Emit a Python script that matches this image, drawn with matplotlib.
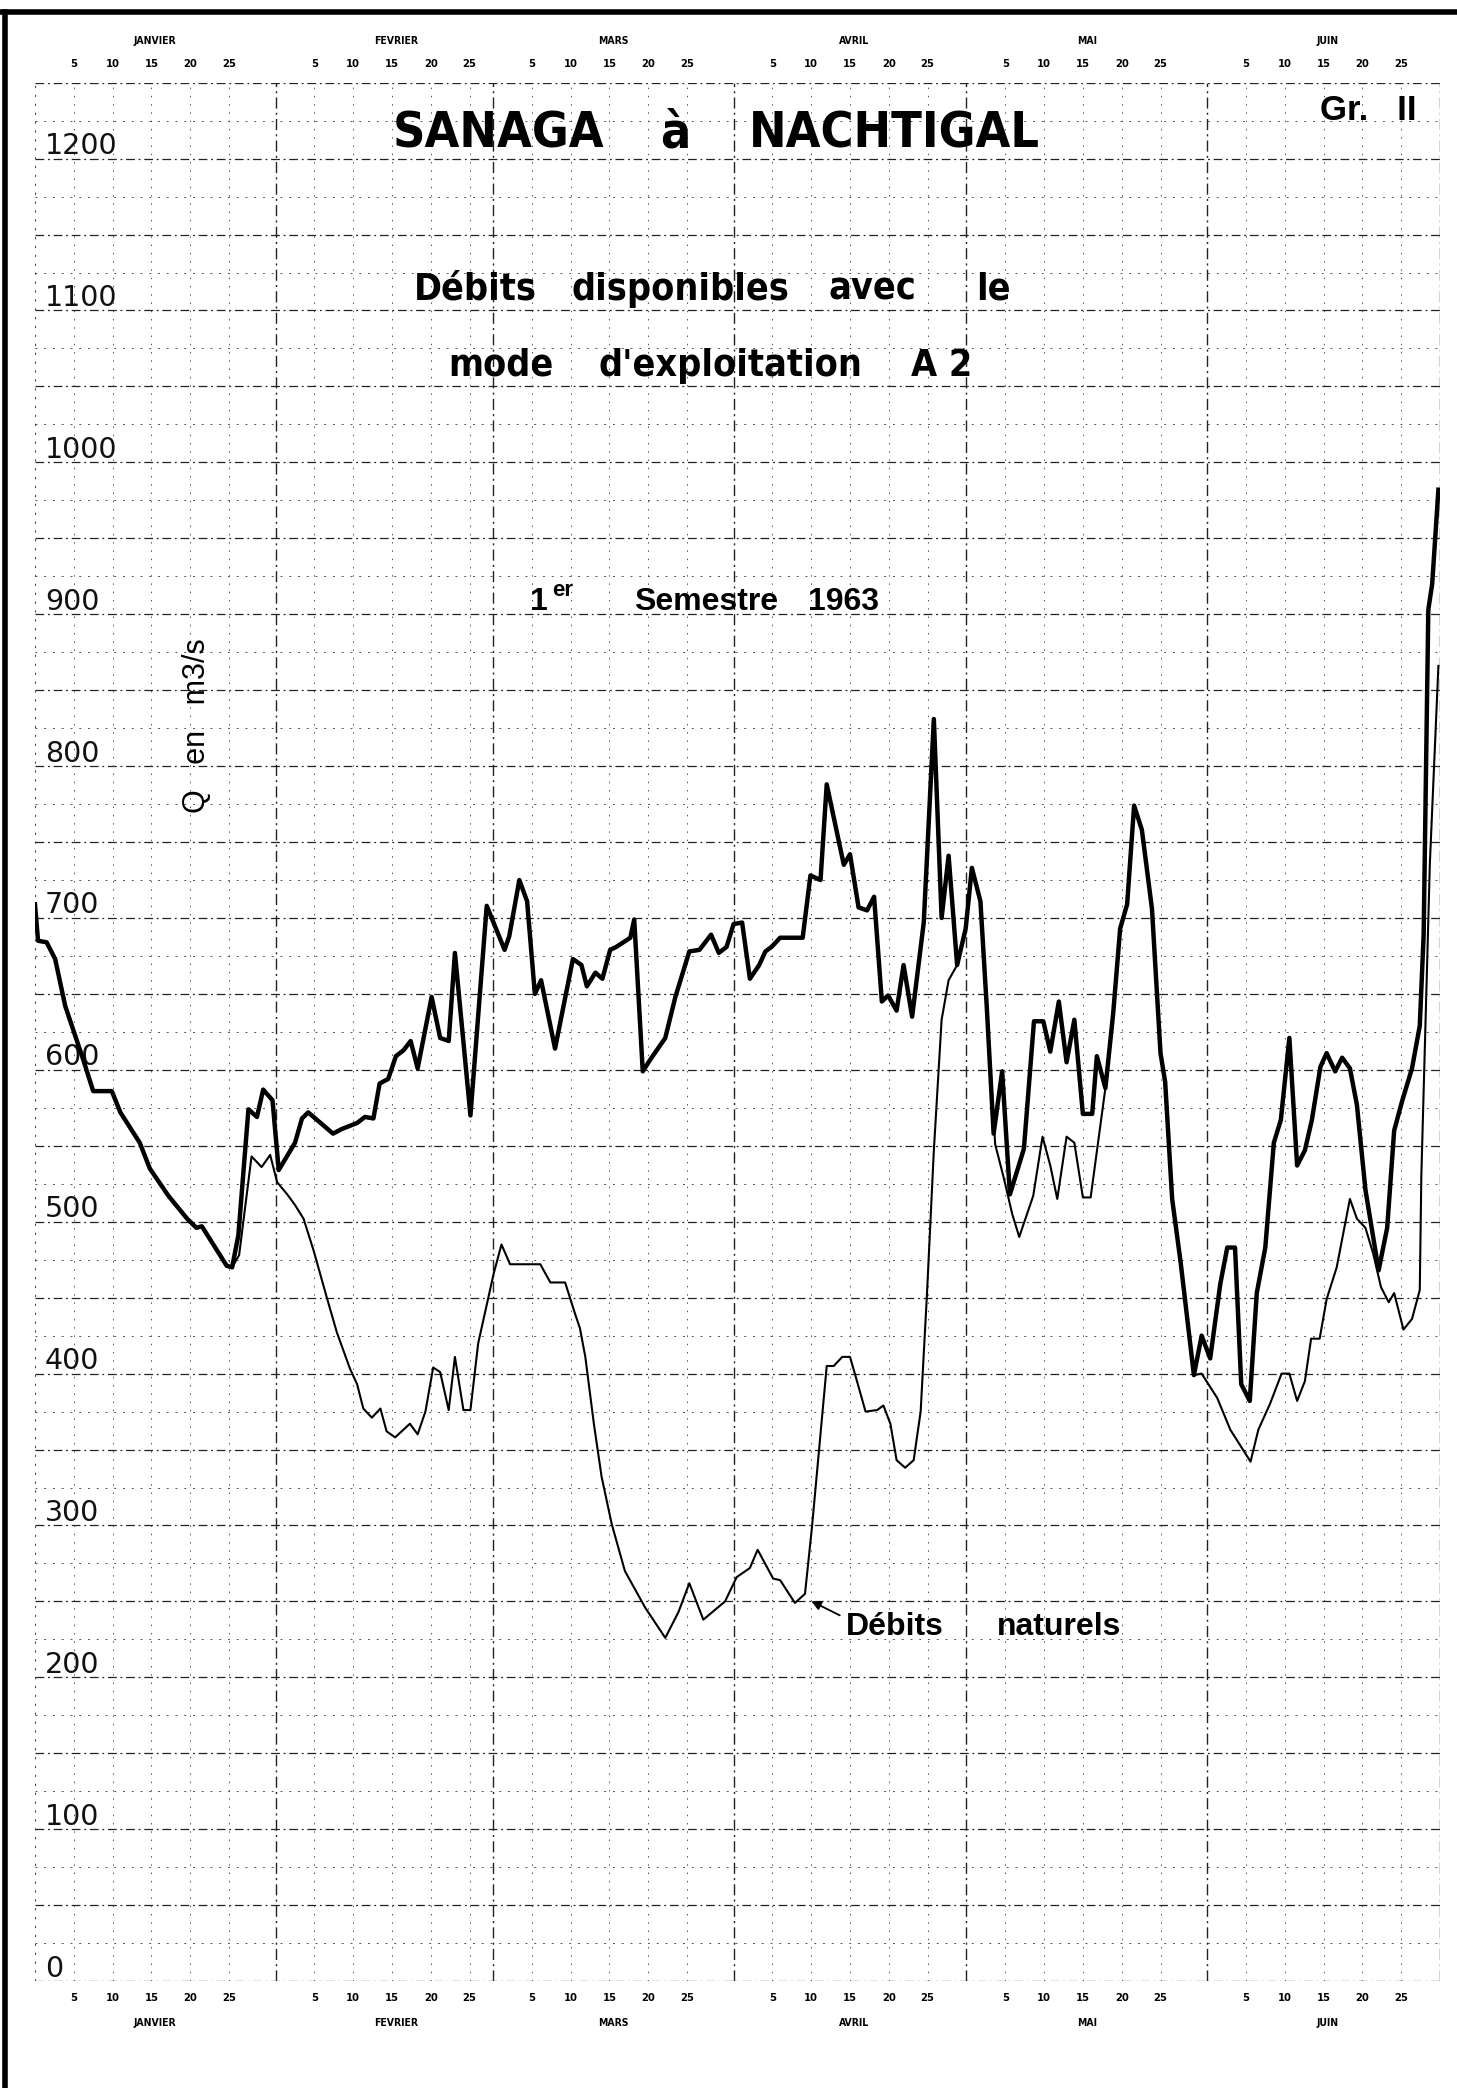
import numpy as np
import matplotlib.pyplot as plt
from matplotlib.lines import Line2D

# Sanaga a Nachtigal - debits disponibles, mode d'exploitation A2, 1er semestre 1963
mois = ['JANVIER', 'FEVRIER', 'MARS', 'AVRIL', 'MAI', 'JUIN']
nb_jours = [31, 28, 31, 30, 31, 30]
graduations_q = list(range(0, 1300, 100))
jours_graduation = [5, 10, 15, 20, 25]

# jour du semestre (0 = debut janvier) et debit en m3/s
jours_A2 = [0, 0.4, 1.5, 2.6, 3.9, 6.2, 7.5, 9.9, 11.0, 13.5, 14.8, 17.2, 19.6, 20.8, 21.5, 24.7, 25.4, 26.2, 27.5, 28.6, 29.4, 30.6, 31.4,
            33.5, 34.4, 35.2, 38.4, 39.5, 41.5, 42.5, 43.6, 44.4, 45.5, 46.5, 47.5, 48.4, 49.3, 51.1, 52.2, 53.3, 54.1, 56.1, 58.2, 60.5, 61.1, 62.4,
            63.4, 64.4, 65.2, 67.0, 69.3, 70.4, 71.1, 72.2, 73.1, 74.1, 74.9, 76.7, 77.2, 78.3, 79.3, 81.2, 82.5, 84.3, 85.6, 87.1, 88.1, 89.1, 90.0, 91.1, 92.1,
            93.3, 94.1, 94.9, 96.0, 98.9, 99.9, 101.2, 102.0, 104.2, 105.0, 106.1, 107.2, 108.1, 109.1, 109.9, 111.0, 111.9, 113.0, 114.5, 115.8, 116.8, 117.7, 118.8, 119.9, 120.7, 121.8,
            122.6, 123.5, 124.6, 125.6, 127.4, 128.7, 129.9, 130.8, 131.9, 132.9, 133.9, 135.0, 136.2, 136.8, 137.9, 138.9, 139.8, 140.7, 141.6, 142.6, 143.9, 145.0, 145.6, 146.5, 147.6, 149.3,
            150.3, 151.4, 152.7, 153.6, 154.6, 155.4, 156.5, 157.4, 158.5, 159.6, 160.5, 161.6, 162.6, 163.6, 164.5, 165.6, 166.4, 167.5, 168.4, 169.4, 170.3, 171.4, 173.1, 174.2, 175.1, 176.1, 177.4, 178.4, 178.9, 179.5, 180.0, 180.8]
q_A2 = [709, 685, 684, 673, 642, 607, 586, 586, 572, 552, 535, 517, 502, 496, 497, 471, 470, 491, 574, 569, 587, 580, 534,
        552, 568, 572, 558, 561, 565, 569, 568, 591, 594, 609, 613, 619, 601, 648, 621, 619, 677, 570, 708, 679, 688, 725,
        711, 650, 659, 614, 673, 669, 655, 664, 660, 679, 681, 687, 699, 599, 607, 621, 648, 678, 679, 689, 677, 681, 696, 697, 660,
        669, 678, 681, 687, 687, 728, 725, 788, 735, 742, 707, 705, 714, 645, 649, 639, 669, 635, 697, 831, 700, 741, 669, 693, 733, 711,
        643, 558, 599, 518, 548, 632, 632, 612, 645, 605, 633, 571, 571, 609, 588, 637, 693, 709, 774, 758, 706, 611, 592, 515, 473, 399,
        425, 410, 459, 483, 483, 393, 382, 453, 483, 552, 567, 621, 537, 547, 567, 602, 611, 599, 608, 601, 577, 521, 468, 496, 560, 579, 601, 629, 689, 903, 920, 982]

jours_nat = [0, 0.4, 1.5, 2.6, 3.9, 6.2, 7.5, 9.9, 11.0, 13.5, 14.8, 17.2, 19.6, 20.8, 21.5, 24.7, 25.4,
             26.3, 27.9, 29.2, 30.3, 31.2, 32.5, 33.5, 34.6, 35.9, 37.6, 38.9, 40.6, 41.5, 42.3, 43.4, 44.5, 45.3, 46.4, 48.3, 49.3, 50.3,
             51.3, 52.2, 53.3, 54.1, 55.2, 56.1, 57.1, 59.1, 60.1, 61.2, 65.1, 66.4, 68.3, 69.6, 70.2, 70.9, 72.0, 73.0, 74.3, 76.0,
             78.6, 81.2, 82.9, 84.3, 86.1, 88.9, 90.4, 92.1, 93.1, 95.1, 96.0, 97.9, 99.2, 100.1, 102.0, 102.9, 104.0, 105.0, 105.9,
             107.0, 108.5, 109.3, 110.2, 111.0, 112.1, 113.2, 114.1, 114.9, 115.8, 116.8, 117.7, 118.8, 119.9, 120.7, 121.8,
             122.6, 123.7, 124.8, 125.9, 126.8, 128.6, 129.8, 130.8, 131.7, 132.9, 133.9, 135.0, 136.0, 137.9, 138.9, 139.8, 140.7,
             141.6, 142.6, 143.9, 145.0, 145.6, 146.5, 147.6, 149.3,
             150.3, 152.3, 154.0, 156.6, 157.6, 159.1, 160.6, 161.6, 162.6, 163.6, 164.4, 165.5, 166.4, 167.7, 169.4, 170.3, 171.4,
             172.4, 173.4, 174.4, 175.1, 176.3, 177.4, 178.4, 178.6, 179.7, 180.8]
q_nat = [709, 685, 684, 673, 642, 607, 586, 586, 572, 552, 535, 517, 502, 496, 497, 471, 470,
         478, 543, 536, 544, 526, 518, 511, 502, 481, 450, 427, 403, 393, 377, 371, 377, 362, 358, 367, 360, 375,
         404, 401, 376, 411, 376, 376, 420, 466, 485, 472, 472, 460, 460, 439, 430, 411, 367, 332, 301, 270,
         246, 226, 243, 262, 238, 250, 266, 272, 284, 265, 264, 249, 255, 299, 405, 405, 411, 411, 395,
         375, 376, 379, 367, 343, 338, 343, 375, 451, 547, 633, 659, 669, 693, 733, 711,
         643, 551, 529, 505, 490, 517, 556, 537, 515, 556, 552, 516, 516, 588, 637, 693, 709,
         774, 758, 706, 611, 592, 515, 473, 399,
         400, 384, 363, 342, 363, 380, 400, 400, 382, 395, 423, 423, 449, 470, 515, 502, 496,
         479, 457, 447, 453, 429, 436, 455, 530, 736, 866]

etroit = dict(family=['Liberation Sans Narrow', 'DejaVu Sans'], fontstretch='condensed', fontweight='bold')

fig = plt.figure(figsize=(14.57, 20.88), dpi=100)
ax = fig.add_axes([0.024, 0.0512, 0.9643, 0.9092])
ax.set_xlim(0, 181)
ax.set_ylim(0, 1250)
ax.axis('off')

# papier millimetre
for q in range(0, 1251, 25):
    if q % 50 == 0:
        ax.axhline(q, color='#222222', lw=0.9, ls=(0, (7, 3, 1.5, 3)), zorder=1)
    else:
        ax.axhline(q, color='#555555', lw=0.7, ls=(0, (2, 7)), zorder=1)
debuts = np.cumsum([0] + nb_jours)
for d in debuts[1:]:
    ax.axvline(d, color='#222222', lw=1.0, ls=(0, (8, 3, 1.5, 3)), zorder=1)
ax.axvline(0, color='#444444', lw=0.8, ls=(0, (2, 6)), zorder=1)
for k in range(6):
    for j in jours_graduation:
        ax.axvline(debuts[k] + j, color='#555555', lw=0.7, ls=(0, (1.5, 7)), zorder=1)

for q in graduations_q:
    ax.text(1.3, q + 3, str(q), fontsize=20.5, ha='left', va='baseline', color='#111111')

# dates en haut et en bas
trans = ax.get_xaxis_transform()
for k in range(6):
    for j in jours_graduation:
        ax.text(debuts[k] + j, 1.0098, str(j), transform=trans, ha='center', va='center', fontsize=8, **etroit)
        ax.text(debuts[k] + j, -0.009, str(j), transform=trans, ha='center', va='center', fontsize=8, **etroit)
    milieu = debuts[k] + 15.5
    ax.text(milieu, 1.0219, mois[k], transform=trans, ha='center', va='center', fontsize=7.5, **etroit)
    ax.text(milieu, -0.0221, mois[k], transform=trans, ha='center', va='center', fontsize=7.5, **etroit)

ax.plot(jours_nat, q_nat, color='black', lw=1.5, zorder=3, solid_joinstyle='round')
ax.plot(jours_A2, q_A2, color='black', lw=3.2, zorder=4, solid_joinstyle='round')

ax.annotate('', xy=(99.7, 251), xytext=(104.0, 240),
            arrowprops=dict(arrowstyle='-|>', color='black', lw=1.3, mutation_scale=14))
ax.text(104.5, 233, 'Débits', fontsize=23, fontweight='bold', va='center', ha='left', family='Liberation Sans')
ax.text(123.9, 233, 'naturels', fontsize=23, fontweight='bold', va='center', ha='left', family='Liberation Sans')

# titres
W, H = 1457, 2088
def ftext(x, y, s, **kw):
    fig.text(x / W, 1 - y / H, s, ha='center', va='center', **kw)

ftext(499, 133, 'SANAGA', fontsize=36, **etroit)
ftext(675, 133, 'à', fontsize=36, **etroit)
ftext(894, 133, 'NACHTIGAL', fontsize=36, **etroit)
ftext(1368, 110, 'Gr.   II', fontsize=25, fontweight='bold', family='Liberation Sans')
for x, mot in zip([475, 680, 872, 993], ['Débits', 'disponibles', 'avec', 'le']):
    ftext(x, 290, mot, fontsize=27, **etroit)
for x, mot in zip([501, 730, 942], ['mode', "d'exploitation", 'A 2']):
    ftext(x, 366, mot, fontsize=27, **etroit)
ftext(539, 602, '1', fontsize=23, fontweight='bold', family='Liberation Sans')
ftext(563, 591, 'er', fontsize=16, fontweight='bold', family='Liberation Sans')
ftext(706, 602, 'Semestre', fontsize=23, fontweight='bold', family='Liberation Sans')
ftext(844, 602, '1963', fontsize=23, fontweight='bold', family='Liberation Sans')
fig.text(197 / W, 1 - 726 / H, 'Q   en   m3/s', rotation=90, ha='center', va='center', fontsize=22, family='Liberation Sans')

# cadre
fig.add_artist(Line2D([0, 1], [1 - 12 / H, 1 - 12 / H], transform=fig.transFigure, color='black', lw=4))
fig.add_artist(Line2D([5 / W, 5 / W], [0, 1 - 12 / H], transform=fig.transFigure, color='black', lw=4))

fig.savefig('out.png', dpi=100, facecolor='white')
